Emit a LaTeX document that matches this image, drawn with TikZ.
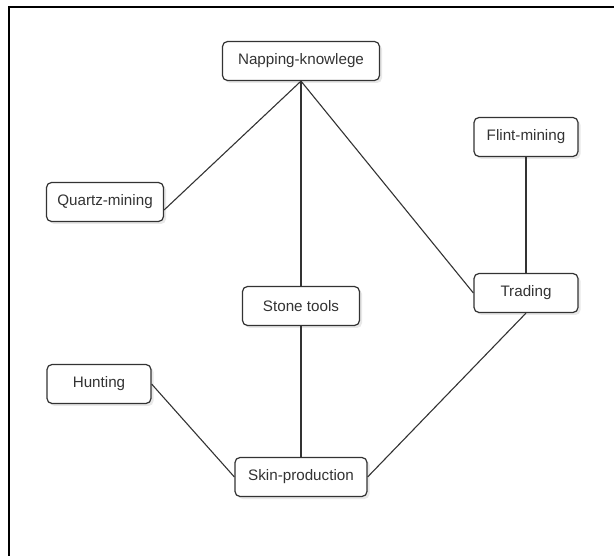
\documentclass[tikz,border=0pt]{standalone}
\usepackage{fontspec}
\setmainfont{Liberation Sans}
\usetikzlibrary{shadows}
\definecolor{ink}{HTML}{333333}
\begin{document}
\begin{tikzpicture}[x=1pt,y=-1pt,
  box/.style={draw=ink, line width=1.2pt, rounded corners=5pt, fill=white,
    text=ink, font=\fontsize{15.2}{17}\selectfont, minimum height=39pt, inner sep=0pt,
    drop shadow={opacity=0.18, shadow xshift=2.5pt, shadow yshift=-2.5pt}},
  link/.style={draw=ink, line width=1.1pt}]
\useasboundingbox (0,0) rectangle (614,556);
\draw[line width=2pt] (9,556) -- (9,7) -- (614,7);
\node[box, minimum width=157pt] (nap) at (301,61) {Napping-knowlege};
\node[box, minimum width=117pt] (qua) at (105,202) {Quartz-mining};
\node[box, minimum width=117pt] (sto) at (301,306) {Stone tools};
\node[box, minimum width=104pt] (fli) at (526,137) {Flint-mining};
\node[box, minimum width=104pt] (tra) at (526,293) {Trading};
\node[box, minimum width=104pt] (hun) at (99,384) {Hunting};
\node[box, minimum width=132pt] (ski) at (301,477) {Skin-production};
\draw[link] (nap.south) -- ([yshift=-8pt]qua.east);
\draw[link] (nap.south) -- (sto.north);
\draw[link] (nap.south) -- (tra.west);
\draw[link] (fli.south) -- (tra.north);
\draw[link] (sto.south) -- (ski.north);
\draw[link] (hun.east) -- (ski.west);
\draw[link] (tra.south) -- (ski.east);
\end{tikzpicture}
\end{document}
